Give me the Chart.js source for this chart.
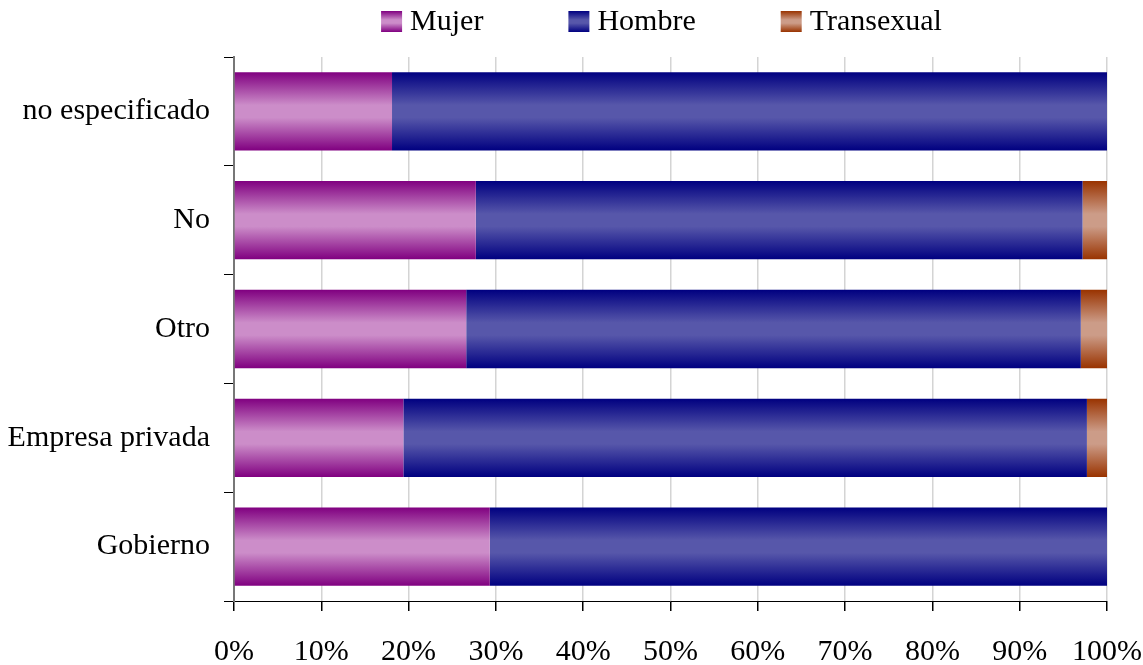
<!DOCTYPE html>
<html>
<head>
<meta charset="utf-8">
<script src="https://cdn.jsdelivr.net/npm/chart.js@4"></script>
<style>
  html, body { margin: 0; padding: 0; background: #fff; }
  canvas { display: block; }
</style>
</head>
<body>
<canvas id="chart" width="1143" height="665"></canvas>
<script>
// categories, top to bottom
const categories = ["no especificado", "No", "Otro", "Empresa privada", "Gobierno"];
// percentage shares
const mujer = [18.1, 27.7, 26.6, 19.4, 29.3];
const hombre = [81.9, 69.5, 70.4, 78.3, 70.7];
const transexual = [0, 2.8, 3.0, 2.3, 0];
const tickLabels = ["0%", "10%", "20%", "30%", "40%", "50%", "60%", "70%", "80%", "90%", "100%"];

const seriesNames = ["Mujer", "Hombre", "Transexual"];
const darkColors = ["#800080", "#000080", "#993300"];
const lightColors = ["#cc8dc9", "#5757aa", "#cc9c88"];

const fontFamily = "'Liberation Serif', 'Times New Roman', serif";
const fontSize = 30;
const catPct = 0.72;

function makeGradient(ctx, top, bottom, i) {
    const g = ctx.createLinearGradient(0, top, 0, bottom);
    g.addColorStop(0, darkColors[i]);
    g.addColorStop(0.42, lightColors[i]);
    g.addColorStop(0.58, lightColors[i]);
    g.addColorStop(1, darkColors[i]);
    return g;
}

function barGradient(i) {
    return (context) => {
        const chart = context.chart;
        const y = chart.scales.y;
        if (!chart.chartArea || !y || context.dataIndex === undefined) {
            return darkColors[i];
        }
        const band = Math.abs(y.getPixelForValue(1) - y.getPixelForValue(0));
        const center = y.getPixelForValue(context.dataIndex);
        const half = band * catPct / 2;
        return makeGradient(chart.ctx, center - half, center + half, i);
    };
}

// legend drawn on top, roughly centred over the plot area, wide gaps like the original
const topLegend = {
    id: "topLegend",
    afterDraw(chart) {
        const ctx = chart.ctx;
        const box = 21, gapText = 8, gapItem = 85, boxTop = 11;
        ctx.save();
        ctx.font = fontSize + "px " + fontFamily;
        ctx.textBaseline = "middle";
        ctx.fillStyle = "#000";
        const widths = seriesNames.map((n) => ctx.measureText(n).width);
        const total = widths.reduce((a, w) => a + box + gapText + w, 0) + gapItem * (seriesNames.length - 1);
        const area = chart.chartArea;
        let x = (area.left + area.right) / 2 - 9 - total / 2;
        seriesNames.forEach((name, i) => {
            ctx.fillStyle = makeGradient(ctx, boxTop, boxTop + box, i);
            ctx.fillRect(x, boxTop, box, box);
            ctx.fillStyle = "#000";
            ctx.fillText(name, x + box + gapText, boxTop + box / 2 + 1);
            x += box + gapText + widths[i] + gapItem;
        });
        ctx.restore();
    },
};

const ctx = document.getElementById("chart").getContext("2d");
const valueSets = [mujer, hombre, transexual];

new Chart(ctx, {
    type: "bar",
    data: {
        labels: categories,
        datasets: seriesNames.map((name, i) => ({
            label: name,
            data: valueSets[i],
            backgroundColor: barGradient(i),
            borderWidth: 0,
            barPercentage: 1,
            categoryPercentage: catPct,
        })),
    },
    options: {
        indexAxis: "y",
        responsive: false,
        animation: false,
        layout: { padding: { left: 0, right: 36, top: 57, bottom: 0 } },
        plugins: {
            tooltip: { enabled: false },
            legend: { display: false },
        },
        scales: {
            x: {
                stacked: true,
                min: 0,
                max: 100,
                afterFit: (scale) => {
                    scale.paddingLeft = 0;
                    scale.paddingRight = 0;
                    scale.height = 64;
                },
                ticks: {
                    stepSize: 10,
                    padding: 23,
                    color: "#000",
                    font: { family: fontFamily, size: fontSize },
                    callback: (v, idx) => tickLabels[idx],
                },
                grid: {
                    color: "#d4d4d4",
                    tickColor: "#000",
                    tickLength: 10,
                    lineWidth: 1.5,
                },
                border: { color: "#000", width: 1 },
            },
            y: {
                stacked: true,
                afterFit: (scale) => {
                    scale.paddingTop = 0;
                    scale.paddingBottom = 0;
                    scale.width = 234;
                },
                ticks: {
                    padding: 14,
                    color: "#000",
                    font: { family: fontFamily, size: fontSize },
                },
                grid: {
                    offset: true,
                    drawOnChartArea: false,
                    tickColor: "#000",
                    tickLength: 10,
                },
                border: { color: "#777", width: 2 },
            },
        },
    },
    plugins: [topLegend],
});
</script>
</body>
</html>
